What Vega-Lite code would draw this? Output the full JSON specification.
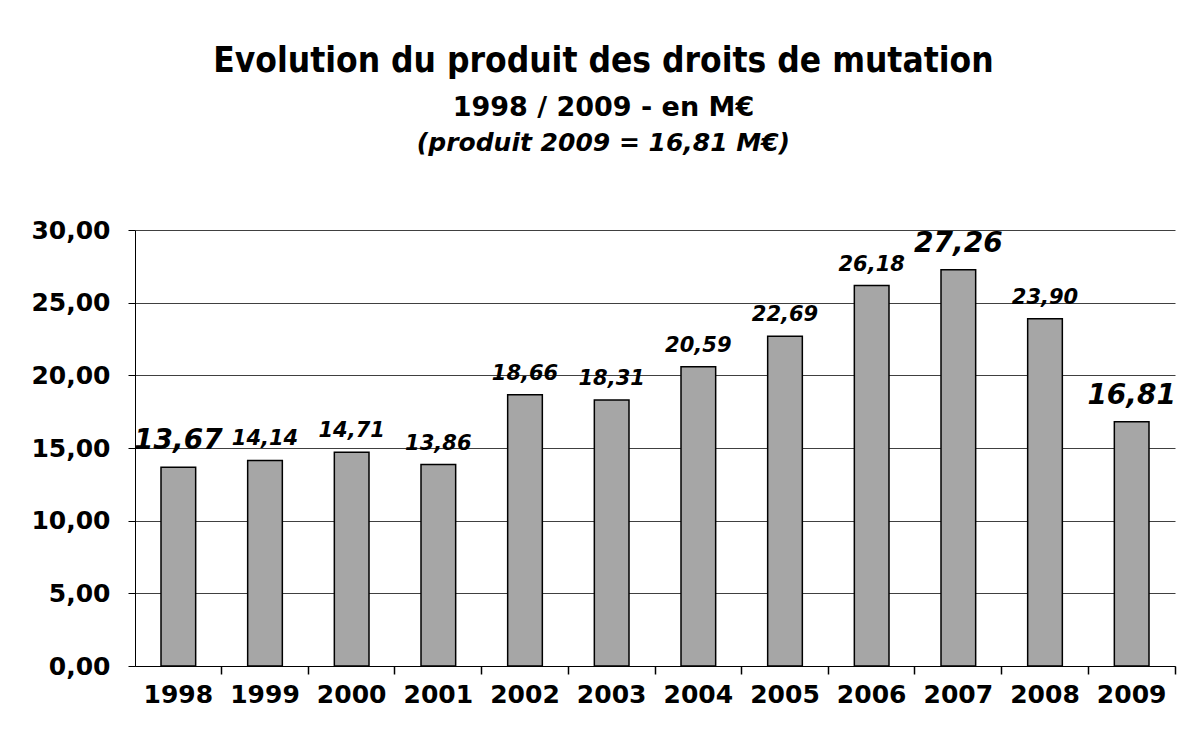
{
  "$schema": "https://vega.github.io/schema/vega-lite/v6.json",
  "background": "white",
  "padding": {"left": 30, "top": 44, "right": 8, "bottom": 20},
  "config": {
    "locale": {"number": {"decimal": ",", "thousands": " ", "grouping": [3], "currency": ["", " €"]}},
    "view": {"stroke": null},
    "font": "DejaVu Sans"
  },
  "title": {
    "text": "Evolution du produit des droits de mutation",
    "subtitle": "1998 / 2009 - en M€",
    "anchor": "middle",
    "frame": "bounds",
    "font": "DejaVu Sans Condensed",
    "fontSize": 35,
    "fontWeight": "bold",
    "color": "black",
    "subtitleFont": "DejaVu Sans",
    "subtitleFontSize": 27,
    "subtitleFontWeight": "bold",
    "subtitleColor": "black",
    "subtitlePadding": 16,
    "offset": 10
  },
  "vconcat": [
    {
      "width": 1040,
      "height": 436,
      "title": {
        "text": "(produit 2009 = 16,81 M€)",
        "anchor": "middle",
        "frame": "bounds",
        "font": "DejaVu Sans",
        "fontSize": 25,
        "fontWeight": "bold",
        "fontStyle": "italic",
        "color": "black",
        "offset": 62
      },
      "data": {
        "values": [
          {"annee": "1998", "produit": 13.67},
          {"annee": "1999", "produit": 14.14},
          {"annee": "2000", "produit": 14.71},
          {"annee": "2001", "produit": 13.86},
          {"annee": "2002", "produit": 18.66},
          {"annee": "2003", "produit": 18.31},
          {"annee": "2004", "produit": 20.59},
          {"annee": "2005", "produit": 22.69},
          {"annee": "2006", "produit": 26.18},
          {"annee": "2007", "produit": 27.26},
          {"annee": "2008", "produit": 23.90},
          {"annee": "2009", "produit": 16.81}
        ]
      },
      "encoding": {
        "x": {
          "field": "annee",
          "type": "ordinal",
          "scale": {"paddingInner": 0.6, "paddingOuter": 0.3},
          "axis": {
            "title": null,
            "labelAngle": 0,
            "labelFont": "DejaVu Sans",
            "labelFontSize": 25,
            "labelFontWeight": "bold",
            "labelColor": "black",
            "labelPadding": 8,
            "bandPosition": 1.75,
            "tickExtra": false,
            "tickSize": 8,
            "tickWidth": 1.5,
            "tickColor": "black",
            "domainColor": "black",
            "grid": false
          }
        },
        "y": {
          "field": "produit",
          "type": "quantitative",
          "scale": {"domain": [0, 30], "nice": false},
          "axis": {
            "title": null,
            "values": [0, 5, 10, 15, 20, 25, 30],
            "format": ".2f",
            "labelFont": "DejaVu Sans",
            "labelFontSize": 25,
            "labelFontWeight": "bold",
            "labelColor": "black",
            "labelPadding": 18,
            "tickSize": 7,
            "tickColor": "black",
            "domainColor": "black",
            "gridColor": "#404040",
            "gridOpacity": 1,
            "gridWidth": 1
          }
        }
      },
      "layer": [
        {
          "mark": {"type": "bar", "fill": "#a6a6a6", "stroke": "black", "strokeWidth": 1.5}
        },
        {
          "transform": [{"filter": "datum.annee != '1998' && datum.annee != '2007' && datum.annee != '2009'"}],
          "mark": {"type": "text", "baseline": "alphabetic", "dy": -15, "font": "DejaVu Sans", "fontSize": 21, "fontWeight": "bold", "fontStyle": "italic", "color": "black"},
          "encoding": {"text": {"field": "produit", "type": "quantitative", "format": ".2f"}}
        },
        {
          "transform": [{"filter": "datum.annee == '1998' || datum.annee == '2007' || datum.annee == '2009'"}],
          "mark": {"type": "text", "baseline": "alphabetic", "dy": -18, "font": "DejaVu Sans", "fontSize": 28, "fontWeight": "bold", "fontStyle": "italic", "color": "black"},
          "encoding": {"text": {"field": "produit", "type": "quantitative", "format": ".2f"}}
        }
      ]
    }
  ]
}
